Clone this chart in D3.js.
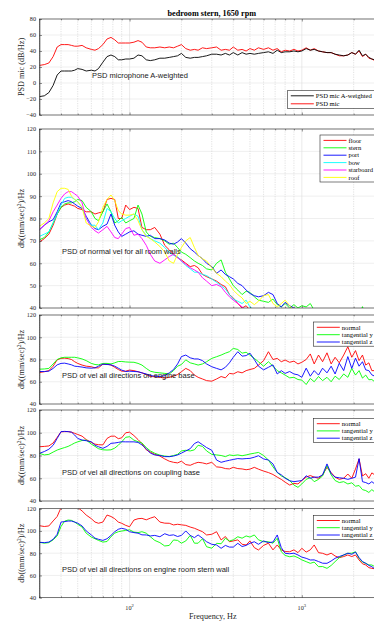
<!DOCTYPE html>
<html><head><meta charset="utf-8">
<script src="https://d3js.org/d3.v7.min.js"></script>
<style>html,body{margin:0;padding:0;background:#fff;}svg{display:block;}</style>
</head><body>
<svg id="chart" width="374" height="621"></svg>
<script>
// ---------------- data ----------------
const freqs=[30,32,34,36,38,40,42,44,46,48,50,53,56,60,63,66,70,74,78,82,86,90,95,100,106,112,118,125,132,140,150,160,170,180,190,200,212,225,238,250,265,280,300,320,340,360,380,400,425,450,475,500,530,560,600,640,680,720,760,800,850,900,950,1000,1060,1120,1180,1250,1320,1400,1480,1560,1650,1750,1850,1950,2050,2150,2250,2350,2450,2550,2650,2750];

const micRaw=[22,23,25,33,45,48,48,48,47,46, 46,47,44,42,41,43,48,55,57,54, 50,50,50,50,51,53,51,45,44,44, 45,44,45,44,46,48,43,41,42,41, 44,43,44,45,41,42,41,45,41,42, 40,43,41,44,42,44,41,43,39,41, 40,42,40,41,44,41,43,40,39,38, 38,36,34,34,35,38,36,40,33,36, 31,30,28,28];
const micAWeighted=[-17,-16,-12,-3,10,15,15,15,15,16, 18,17,15,16,15,18,26,33,35,33, 29,29,30,30,31,35,34,29,28,29, 31,31,32,33,34,37,32,31,32,32, 33,34,36,36,35,37,35,38,35,38, 36,37,36,37,38,39,37,41,38,39, 39,40,39,40,43,41,42,40,39,38, 38,36,35,34,35,38,36,41,34,36, 32,30,29,28];

const wallFloor=[69.5,71,73,77,82,85,86,86.5,86,85.5, 84.5,84,83,83,82,82.5,83,88.5,89,88.5, 80,80,86,84,85,84.5,76,75,75,76, 73,68,66,64,62.5,61.5,60,58.5,59,58, 55,54,53,52,50.5,49.5,46,44.5,42,40, 41,39,38,37,36,36,36,36,36,36, 36,36,36,36,36,36,36,36,36,36, 36,36,36,36,36,36,36,36,36,36, 36,36,36,36];
const wallStern=[70.5,71.5,74,78,82,85,86.5,87,87,87.5, 88.5,88,85,83,80,79,83,86.5,83,78, 79,80.5,78,79,80,86,82,74,72,71.5, 71,70,68.5,69,67,65,64,62.5,61,60, 59,57.5,57,60,61.5,56,53,50,48,46, 47.5,47,45,43.5,43,42.5,44,41.5,40.5,42, 40,41.5,40,41,40.5,42,39,37,36,36, 36,36,36,36,36,36,36,36,40.6,36, 36,36,36,36];
const wallPort=[75,77,78.5,79.5,83,87,87.5,88,87.5,86.5, 85.5,84.5,81,77,75.5,75,76.5,77.5,82,77, 74,72,73,74,74.5,73,72.5,72,72.5,71, 71,70.4,69,68.5,69.5,71,69,66.5,65,63.5, 62,60,58.5,55.5,57,55,54,53,51,50, 48,46.5,45.5,45,45.5,47,46,42,40.5,42.5, 41,40,38,37,36,36,36,36,36,36, 36,36,36,36,36,36,36,36,36,36, 36,36,36,36];
const wallBow=[72,73,74,78,82,86,89,89.5,89.5,88.5, 87.5,85,80,77,77,75,78,84.5,83,80, 78,79,80,81,82,81,75,72.5,71,70, 69,67,65,63.5,63,61,59,57.5,56,56, 55,54.5,53,51.5,50,48.5,46,44,43,42, 43.5,40.5,39,37,36,36,36,36,36,36, 36,36,36,36,36,36,36,36,36,36, 36,36,36,36,36,36,36,36,36,36, 36,36,36,36];
const wallStarboard=[75,77,79,83,86,89,91,92,92,91, 90,87,80,76,74.5,73.5,75,76.5,74,71.5, 71,73,75.5,76,72.5,73,71,68,64,61, 60,61.5,63,64,62.5,61,59.5,58,57,56, 53.5,52,50,50.5,49.5,47,45,43.5,42,40.5, 39,37,36,36,36,36,36,36,36,36, 36,36,36,36,36,36,36,36,36,36, 36,36,36,36,36,36,36,36,36,36, 36,36,36,36];
const wallRoof=[76.5,78,80,87,92,93.5,93.5,93,90,88.5, 87.5,85,78,76.5,76,78.5,85,88.5,90.5,88, 83.5,82,81.5,81.5,82,79,75,72,71,69.5, 67.5,65,61,60,64,67,70,71.5,67,63.5, 62,61,58,55.5,54,52,50.5,48,46,44.5, 42,43,41.5,43,45.5,46,42,40.5,42,43.5, 41,39,37,36,36,36,36,36,36,36, 36,36,36,36,36,36,36,36,36,36, 36,36,36,36];

const engNormal=[68.3,69,70,74,79.7,81,81.2,80.8,80,78, 76.5,75,74,73.5,72.5,72.5,75.8,75.8,75,73, 71,69.5,69.5,70.5,70,69,68,66.5,64.7,64.5, 64,63.3,64,65,66.5,69,72,70,66,64, 62.5,61,60.5,62.5,64.7,63.5,67.5,67,69,68, 70,71,72,75,79,87,80,81,78,79.5, 77.5,78.5,76,77.5,80,85,76,84,78,86, 76,82,77,84,91.5,82,88,79,84,75, 77,70,70,68];
const engTanY=[71.3,71.5,72,76,80,81.5,82,82,82,82, 81.5,80.5,79,76.5,75.5,75.2,76.5,76.5,76,77, 78.2,78.2,77.8,77.6,77.5,76.5,75,72,69.5,68.5, 68,67.5,67,70,74,75.5,79.7,77,76,75, 76,78,81,82.5,84,85.7,87,90,89,85.7, 86.5,84,81,78,74,78,74,70,68,66, 63.5,64,62,61.5,57.5,63,60,64.7,61,64, 60,65,62,67,64,72,66,70,63.3,66, 61.8,62,60,61];
const engTanZ=[69.2,69.2,69.5,72,75.2,76.5,76.7,76,75.2,74, 73.7,73.2,72.5,72.2,72.5,74,75.8,75.5,75.2,74, 72.2,70.5,69.2,69.5,69.2,69,68,67,65.6,65, 64.7,65.5,68,71,76,82.6,84,81.5,80.5,80.5, 79,76,73.5,72,70.7,73,77,82,87,83, 83.5,85.7,80,74,70.7,73,75.2,67,70,67.5, 69.2,67,66.2,64,72.2,65,70,66,72.2,68, 74,67,76.7,70,82.6,72,81.2,74,78,70.7, 70,66.2,65,64];

const cplNormal=[87.7,88,88.4,91,96,100.8,101,101,100.5,99.5, 98.5,97,94,91.5,90,89.5,89.3,95,97,97, 94.8,95.5,100,100.5,97.5,94,90.5,85,83,81, 79.5,77,75,74,73.5,75,72,71.4,73,74, 73.5,72.6,74,70,69.6,68.5,68.2,69.6,68.5,68.2, 67.5,68,69.6,68,66.3,65,63.3,61,59,56.6, 54,55.5,55,58,61,62.4,61,60,63,69.6, 65,61,59,60,63.7,60,68.2,77,62,64, 60,64.7,63,64];
const cplTanY=[81.9,80.5,81,83,84.8,86,87,88,89.5,91, 92,93.2,93.6,90,88,86,85,84.8,85,86.5, 89,92,96,96.5,93.5,92.1,91,87,84,82, 80.3,79.5,79,80,81,84,84.6,84,85,89, 88,84,81,80.5,80,79,80.5,80,80.5,79.8, 80.5,81.3,82,82.7,80,76,70,65.1,62,60.6, 58,54,52,55,59,60.6,57,59,62,71, 63,58,56.2,57,55,56,53,53.6,50,49.2, 47.5,50,48,47];
const cplTanZ=[81.9,83.5,85.5,89,95,101,101.2,101,100.5,98, 95,93.6,93,92,89,87.7,86.3,88,90.7,91, 91.5,92.1,92,92,92,91.5,89.3,86,82.1,80.5, 80,79,79,79.5,80.5,82.1,84,86,90.5,92.1, 89.5,87,84.6,76,74,75,75.8,76.5,77.3,77, 77.3,77.5,78.5,79.8,77,76,72.6,65.1,63,60, 57.8,57,57.5,58,62.2,60,61,61,63,72.6, 64,61,60.4,60,59,60,61,77.3,57,56.2, 55,57,55,54];

const sternNormal=[104.7,104,104.5,109,113,121,124,125,125,123, 121,118,114.3,111,108,106.9,108,114.3,113,111, 108,106.9,105,103.8,109.8,111,111.3,110,111.5,112.8, 108,107,106.9,105.4,106,105.5,105,103.5,102.4,101, 99.3,96.4,97,99.3,91.9,95,90.3,91,92,88, 87.4,91,85,82.9,87,89,83,87.4,82.9,81.5, 81.3,83,80.5,84.4,81,83,87.4,80.5,79.9,78.4, 80,77.5,76,77,78.4,77,78.4,73.9,70.5,69.4, 67,66.4,66,65];
const sternTanY=[89.8,89,89.5,92,95.5,104,108.9,109.8,109.5,108, 106,103.5,98,94.5,93,91.5,90,90.5,94.8,98, 99.3,99.9,100.5,101,99,98.5,99.3,98,94.8,91.5, 89.5,86.5,87,91.9,91.5,89,91,96,89,89, 93,85.8,84.5,88.9,88.5,93.4,91,92,94.8,93.5, 95.5,94.5,96.4,92,90.3,90.3,89,93.4,81.3,78, 76.8,77.5,76,74,72.4,70.9,72,67.9,68,66.4, 69,72.4,76,78.4,79.9,80,81.3,75.4,72,70.9, 69.5,69.4,68,67];
const sternTanZ=[89.8,89.5,90,92.5,97,108,108.4,108.9,108.9,108, 107,104.5,100,96.4,93.5,92.5,91.5,93,96,99.3, 101.5,102.4,101.5,99.3,98.5,98,96.5,96.4,95.5,96, 94.8,97.5,96,96.5,95,96,100,96,94,96.4, 93.4,90.3,88,87.4,84.4,87,85.5,85.5,88.9,86, 87,88.9,90.3,88,91,89.5,90,96.4,85,79.9, 79.5,80,78.4,76.5,75.4,73.9,74,72.5,71,70.9, 73,75.4,77,78.4,80,79,81,76,72.5,70.9, 69,67.9,66,65];

const xTickExponents=[2,3];
const micNames=["PSD mic A-weighted","PSD mic"];
const wallNames=["floor","stern","port","bow","starboard","roof"];
const dirNames=["normal","tangential y","tangential z"];
const titleText="bedroom stern, 1650 rpm";
const xLabelText="Frequency, Hz";

// ---------------- drawing ----------------
const serif='"Liberation Serif","Times New Roman",Times,serif';
const sans='"Liberation Sans",Arial,Helvetica,sans-serif';
const ink='#262626';
const svg=d3.select('#chart');
const x=d3.scaleLog().domain([30,3000]).range([39.5,384]);
const [x0,x1]=x.range();

const panels=[
 {top:19,bottom:115,domain:[-40,80],step:20,ylabel:'mic',note:"PSD microphone A-weighted",noteX:92,noteY:77.5,
  series:[{name:micNames[0],color:'#000000',values:micAWeighted},{name:micNames[1],color:'#ff0000',values:micRaw}],
  drawOrder:[1,0],legend:{x:287.3,y:90.7,h:17.6,rows:[95.8,103.8]}},
 {top:129,bottom:308,domain:[40,120],step:10,ylabel:'vel',note:"PSD of normal vel for all room walls",noteX:62,noteY:254,
  series:[{name:wallNames[0],color:'#ff0000',values:wallFloor},{name:wallNames[1],color:'#00ff00',values:wallStern},
          {name:wallNames[2],color:'#0000ff',values:wallPort},{name:wallNames[3],color:'#00ffff',values:wallBow},
          {name:wallNames[4],color:'#ff00ff',values:wallStarboard},{name:wallNames[5],color:'#ffff00',values:wallRoof}],
  drawOrder:[0,1,2,3,4,5],legend:{x:320,y:135,h:47,rows:[140.4,147.8,155.2,162.6,170,177.4]}},
 {top:315,bottom:404,domain:[40,120],step:20,ylabel:'vel',note:"PSD of vel all directions on engine base",noteX:62,noteY:378,
  series:[{name:dirNames[0],color:'#ff0000',values:engNormal},{name:dirNames[1],color:'#00ff00',values:engTanY},{name:dirNames[2],color:'#0000ff',values:engTanZ}],
  drawOrder:[0,1,2],legend:{x:313.3,y:322,h:24.2,rows:[327.3,334.7,342]}},
 {top:410,bottom:501,domain:[40,120],step:20,ylabel:'vel',note:"PSD of vel all directions on coupling base",noteX:62,noteY:475,
  series:[{name:dirNames[0],color:'#ff0000',values:cplNormal},{name:dirNames[1],color:'#00ff00',values:cplTanY},{name:dirNames[2],color:'#0000ff',values:cplTanZ}],
  drawOrder:[0,1,2],legend:{x:313.3,y:418.4,h:24.2,rows:[423.7,430.9,438.2]}},
 {top:508.7,bottom:597.7,domain:[40,120],step:20,ylabel:'vel',note:"PSD of vel all directions on engine room stern wall",noteX:62,noteY:571.5,
  series:[{name:dirNames[0],color:'#ff0000',values:sternNormal},{name:dirNames[1],color:'#00ff00',values:sternTanY},{name:dirNames[2],color:'#0000ff',values:sternTanZ}],
  drawOrder:[0,1,2],legend:{x:313.3,y:515.3,h:24.2,rows:[520.5,527.7,535]}}
];

svg.append('text').attr('x',(x0+x1)/2).attr('y',15.5).attr('text-anchor','middle')
  .attr('font-family',serif).attr('font-weight','bold').attr('font-size',8.2).attr('fill','#000').text(titleText);

const xt=x.ticks();
const isMajor=d=>Math.abs(Math.log10(d)-Math.round(Math.log10(d)))<1e-9;

panels.forEach((p,i)=>{
  const y=d3.scaleLinear().domain(p.domain).range([p.bottom,p.top]);
  const yTicks=d3.range(p.domain[0],p.domain[1]+0.001,p.step);
  const g=svg.append('g');
  g.append('rect').attr('x',x0).attr('y',p.top).attr('width',x1-x0).attr('height',p.bottom-p.top).attr('fill','#fff');
  // horizontal grid
  g.selectAll(null).data(yTicks).join('line')
    .attr('x1',x0).attr('x2',x1).attr('y1',d=>y(d)).attr('y2',d=>y(d))
    .attr('stroke','#e4e4e4').attr('stroke-width',0.6);
  // vertical grid
  g.selectAll(null).data(xt).join('line')
    .attr('x1',d=>x(d)).attr('x2',d=>x(d)).attr('y1',p.top).attr('y2',p.bottom)
    .attr('stroke',d=>isMajor(d)?'#dedede':'#cfcfcf').attr('stroke-width',0.6)
    .attr('stroke-dasharray',d=>isMajor(d)?null:'1.2,1.2');
  // clip
  const cid='clip'+i;
  svg.append('clipPath').attr('id',cid).append('rect')
    .attr('x',x0).attr('y',p.top).attr('width',x1-x0).attr('height',p.bottom-p.top);
  const line=d3.line().x((d,j)=>x(freqs[j])).y(d=>y(d));
  p.drawOrder.forEach(k=>{
    const s=p.series[k];
    g.append('path').attr('clip-path',`url(#${cid})`).attr('d',line(s.values))
      .attr('fill','none').attr('stroke',s.color).attr('stroke-width',0.9).attr('stroke-linejoin','round');
  });
  // axes
  const axL=d3.axisLeft(y).tickValues(yTicks).tickSize(-2.5).tickSizeOuter(0).tickPadding(3.5);
  const gl=g.append('g').attr('transform',`translate(${x0},0)`).call(axL);
  gl.selectAll('text').attr('font-family',serif).attr('font-size',6.2).attr('fill',ink);
  gl.selectAll('line,path').attr('stroke',ink).attr('stroke-width',0.5);
  const axR=d3.axisRight(y).tickValues(yTicks).tickSize(-2.5).tickSizeOuter(0).tickFormat('');
  g.append('g').attr('transform',`translate(${x1},0)`).call(axR).selectAll('line,path').attr('stroke',ink).attr('stroke-width',0.5);
  const majors=xt.filter(isMajor), minors=xt.filter(d=>!isMajor(d));
  [[majors,2.5],[minors,1.4]].forEach(([vals,len])=>{
    const b=g.append('g').attr('transform',`translate(0,${p.bottom})`).call(d3.axisBottom(x).tickValues(vals).tickSize(-len).tickSizeOuter(0).tickFormat(''));
    b.select('.domain').remove();
    b.selectAll('line').attr('stroke',ink).attr('stroke-width',0.5);
    const t=g.append('g').attr('transform',`translate(0,${p.top})`).call(d3.axisTop(x).tickValues(vals).tickSize(-len).tickSizeOuter(0).tickFormat(''));
    t.select('.domain').remove();
    t.selectAll('line').attr('stroke',ink).attr('stroke-width',0.5);
  });
  g.append('rect').attr('x',x0).attr('y',p.top).attr('width',x1-x0).attr('height',p.bottom-p.top)
    .attr('fill','none').attr('stroke',ink).attr('stroke-width',0.6);
  // y label
  const cy=(p.top+p.bottom)/2;
  const yl=g.append('text').attr('transform',`translate(24.3,${cy}) rotate(-90)`).attr('text-anchor','middle')
    .attr('font-family',serif).attr('font-size',8.2).attr('fill',ink);
  if(p.ylabel==='mic'){ yl.text('PSD mic (dB/Hz)'); }
  else {
    yl.append('tspan').text('db((mm/sec)');
    yl.append('tspan').attr('font-size',5.5).attr('dy',-3).text('2');
    yl.append('tspan').attr('dy',3).text(')/Hz');
  }
  // annotation
  g.append('text').attr('x',p.noteX).attr('y',p.noteY).attr('font-family',sans).attr('font-size',7.5)
    .attr('fill','#1a1a1a').text(p.note);
  // legend
  const L=p.legend;
  const lg=g.append('g');
  lg.append('rect').attr('x',L.x).attr('y',L.y).attr('width',90).attr('height',L.h)
    .attr('fill','#fff').attr('stroke',ink).attr('stroke-width',0.6);
  p.series.forEach((s,k)=>{
    lg.append('line').attr('x1',L.x+3.5).attr('x2',L.x+26.5).attr('y1',L.rows[k]).attr('y2',L.rows[k])
      .attr('stroke',s.color).attr('stroke-width',0.9);
    lg.append('text').attr('x',L.x+28.5).attr('y',L.rows[k]+2.2).attr('font-family',serif).attr('font-size',6.6)
      .attr('fill','#000').text(s.name);
  });
  // x tick labels on bottom panel
  if(i===panels.length-1){
    xTickExponents.forEach(e=>{
      const t=svg.append('text').attr('x',x(Math.pow(10,e))).attr('y',610).attr('text-anchor','middle')
        .attr('font-family',serif).attr('font-size',6.2).attr('fill',ink);
      t.append('tspan').text('10');
      t.append('tspan').attr('font-size',4.6).attr('dy',-3).text(String(e));
    });
    svg.append('text').attr('x',(x0+x1)/2+1).attr('y',618.5).attr('text-anchor','middle')
      .attr('font-family',serif).attr('font-size',8.2).attr('fill',ink).text(xLabelText);
  }
});
</script>
</body></html>
